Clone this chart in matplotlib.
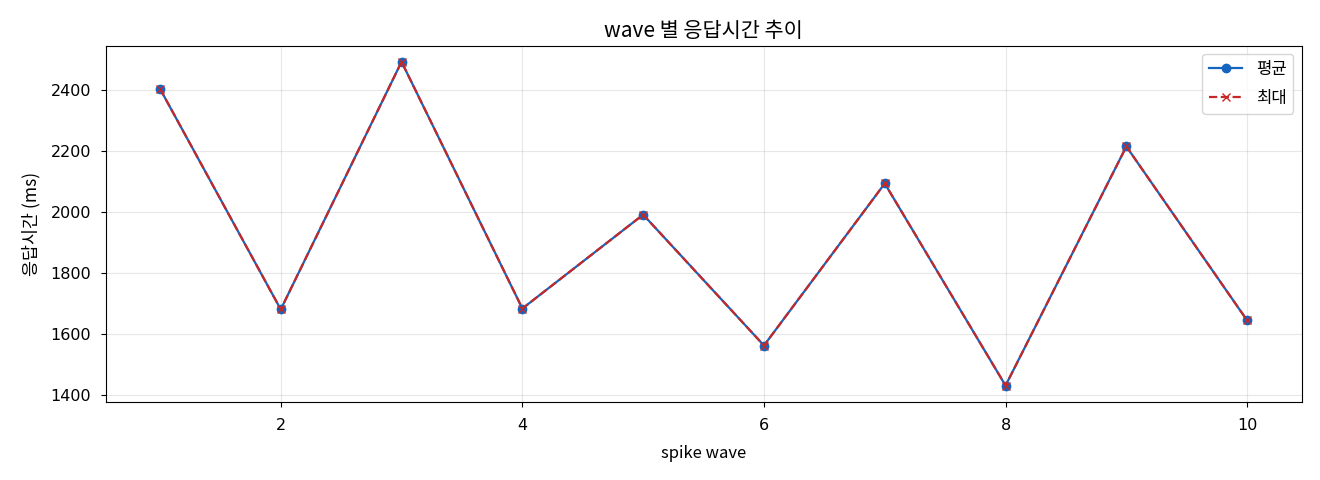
import matplotlib
matplotlib.use("Agg")
import matplotlib.pyplot as plt

plt.rcParams['font.family'] = ['Noto Sans CJK KR', 'DejaVu Sans']
plt.rcParams['axes.unicode_minus'] = False

waves = [1, 2, 3, 4, 5, 6, 7, 8, 9, 10]
avg_ms = [2403, 1681, 2491, 1684, 1991, 1563, 2093, 1432, 2214, 1645]
max_ms = [2403, 1681, 2491, 1684, 1991, 1563, 2093, 1432, 2214, 1645]

fig, ax = plt.subplots(figsize=(13.2, 4.8), dpi=100)
ax.plot(waves, avg_ms, marker="o", color="#1565C0", linewidth=1.6, markersize=6, label="평균")
ax.plot(waves, max_ms, marker="x", linestyle="--", color="#C62828", linewidth=1.6, markersize=6, label="최대")

ax.set_title("wave 별 응답시간 추이", fontsize=15)
ax.set_xlabel("spike wave", fontsize=12, labelpad=9)
ax.set_ylabel("응답시간 (ms)", fontsize=12.5, labelpad=7)
ax.grid(True, alpha=0.3)
ax.tick_params(axis="x", pad=8)
ax.tick_params(axis="y", pad=7)
for lbl in ax.get_xticklabels() + ax.get_yticklabels():
    lbl.set_fontfamily("DejaVu Sans")
    lbl.set_fontsize(11.5)
ax.legend(loc="upper right", prop={"size": 12}, labelspacing=0.75)

fig.subplots_adjust(left=0.08, right=0.986, top=0.905, bottom=0.163)
fig.savefig("out.png", dpi=100)
